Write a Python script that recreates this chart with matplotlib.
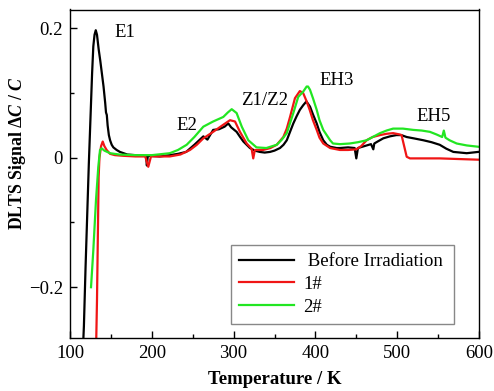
import matplotlib
matplotlib.use("Agg")
import matplotlib.pyplot as plt
import numpy as np

plt.rcParams['font.family'] = ['Liberation Serif', 'DejaVu Serif']
plt.rcParams['mathtext.fontset'] = 'custom'
plt.rcParams['mathtext.rm'] = 'Liberation Serif'
plt.rcParams['mathtext.it'] = 'Liberation Serif:italic'
plt.rcParams['mathtext.bf'] = 'Liberation Serif:bold'
plt.rcParams['mathtext.bfit'] = 'Liberation Serif:bold:italic'

# ---- data ----
before_T = [115, 117, 119, 121, 123, 125, 127, 128.5, 130, 131.5, 133, 135, 137, 139, 141, 143,
            144, 145, 146, 147.5, 149, 151, 153, 157, 161, 170, 180, 190, 193, 194, 195, 198,
            210, 222, 232, 242, 252, 263, 268, 275, 282, 289, 293.5, 297, 303.7, 308, 312, 320,
            326, 332, 338, 344.5, 350, 356.7, 361, 365, 369, 373, 377, 381, 385, 389, 393.4,
            397, 401.6, 405, 409.6, 414, 418, 426, 430, 440, 448, 450, 452, 460, 468, 470.8,
            472, 476, 483, 491, 499, 505, 511.6, 520, 532, 542, 552, 560, 568.6, 577, 585, 592, 599]
before_V = [-0.32, -0.26, -0.17, -0.09, -0.01, 0.06, 0.13, 0.172, 0.19, 0.197, 0.19, 0.168, 0.15,
            0.13, 0.11, 0.085, 0.07, 0.066, 0.05, 0.035, 0.027, 0.02, 0.016, 0.012, 0.009, 0.005,
            0.004, 0.003, 0.002, -0.012, 0.002, 0.003, 0.002, 0.004, 0.006, 0.009, 0.02, 0.033,
            0.028, 0.043, 0.044, 0.048, 0.053, 0.047, 0.04, 0.032, 0.025, 0.015, 0.011, 0.009,
            0.008, 0.009, 0.011, 0.015, 0.02, 0.027, 0.04, 0.053, 0.064, 0.074, 0.081, 0.087,
            0.079, 0.067, 0.053, 0.04, 0.027, 0.02, 0.017, 0.015, 0.015, 0.016, 0.015, -0.001,
            0.015, 0.018, 0.021, 0.013, 0.022, 0.025, 0.03, 0.033, 0.035, 0.035, 0.032, 0.03,
            0.027, 0.024, 0.02, 0.014, 0.009, 0.008, 0.007, 0.008, 0.009]

irr1_T = [131.5, 133, 135, 136, 138, 140, 142, 144.8, 149, 155, 165, 180, 192, 195.7, 199,
          210, 222, 235, 246.7, 255, 263, 275, 287.4, 295.6, 301.7, 307.8, 316, 322, 324, 326,
          336, 345, 352.7, 360.8, 365, 369, 375, 381, 385, 389, 393, 397, 401.6, 405, 409.6,
          418, 430, 440, 450, 456, 462.6, 470, 479, 487, 495, 503, 505.3, 511.6, 515.6, 530,
          552, 575, 599]
irr1_V = [-0.32, -0.22, -0.03, 0.0, 0.018, 0.025, 0.018, 0.012, 0.006, 0.004, 0.003, 0.002,
          0.002, -0.014, 0.002, 0.002, 0.002, 0.005, 0.012, 0.02, 0.03, 0.04, 0.051, 0.058,
          0.056, 0.04, 0.022, 0.014, -0.001, 0.012, 0.012, 0.015, 0.02, 0.032, 0.045, 0.063,
          0.092, 0.103, 0.1, 0.088, 0.074, 0.058, 0.043, 0.031, 0.022, 0.015, 0.012, 0.012,
          0.013, 0.018, 0.027, 0.032, 0.035, 0.037, 0.038, 0.036, 0.035, 0.0015, -0.001,
          -0.001, -0.001, -0.002, -0.003]

irr2_T = [125.7, 128.5, 131.8, 134.6, 136.7, 138.7, 142, 149, 160, 180, 200, 222, 232, 242.6,
          252, 263, 275, 287.4, 293, 297.7, 303.7, 310, 318, 328, 340, 352.7, 359, 365, 373,
          379, 385, 389.3, 391, 393.4, 397, 401.6, 405, 409.6, 418, 421.5, 430, 442, 452,
          462.6, 470, 479, 487, 495, 507, 519.7, 530, 540, 548, 555, 557, 559, 564, 572.7,
          585, 599]
irr2_V = [-0.2, -0.143, -0.065, -0.014, 0.012, 0.0145, 0.011, 0.007, 0.005, 0.004, 0.004,
          0.007, 0.012, 0.02, 0.032, 0.048, 0.056, 0.063, 0.07, 0.075, 0.069, 0.048, 0.027,
          0.016, 0.015, 0.02, 0.028, 0.038, 0.069, 0.094, 0.102, 0.11, 0.11, 0.105, 0.092,
          0.074, 0.058, 0.043, 0.027, 0.022, 0.021, 0.022, 0.024, 0.027, 0.032, 0.038, 0.042,
          0.045, 0.045, 0.043, 0.042, 0.04, 0.036, 0.032, 0.042, 0.031, 0.027, 0.022, 0.019,
          0.017]

labels = [" Before Irradiation", "1#", "2#"]
peak_names = ["E1", "E2", "Z1/Z2", "EH3", "EH5"]
peak_T = [167, 243, 338, 426, 544]
peak_V = [0.194, 0.05, 0.089, 0.12, 0.063]

fig = plt.figure(figsize=(4.94, 3.91), dpi=100)
ax = fig.add_axes([70/494, 1-337.7/391, 409/494, 328.2/391])

ax.plot(before_T, before_V, color='black', lw=1.6, label=labels[0])
ax.plot(irr1_T, irr1_V, color='#f01515', lw=1.6, label=labels[1])
ax.plot(irr2_T, irr2_V, color='#22e622', lw=1.6, label=labels[2])

for n, t, v in zip(peak_names, peak_T, peak_V):
    ax.text(t, v, n, ha='center', va='center', fontsize=13.5)

ax.set_xlim(100, 600)
ax.set_ylim(-0.278, 0.229)
ax.set_xticks([100, 200, 300, 400, 500, 600])
ax.set_xticks([150, 250, 350, 450, 550], minor=True)
ax.set_yticks([-0.2, 0, 0.2])
ax.set_yticklabels(['\u22120.2', '0', '0.2'])
ax.set_yticks([-0.1, 0.1], minor=True)
ax.tick_params(which='both', direction='in', labelsize=13.5)
ax.tick_params(which='major', length=5, width=1, pad=5)
ax.tick_params(which='minor', length=3, width=1)
for s in ax.spines.values():
    s.set_linewidth(1.0)

ax.set_xlabel('Temperature / K', fontsize=13.5, fontweight='bold')
ax.xaxis.set_label_coords(0.5, (337.7 - 380) / 328.2)
ax.set_ylabel('DLTS Signal \u0394$\\mathbfit{C}$ / $\\mathbfit{C}$', fontsize=12.8,
              fontweight='bold', va='center')
ax.yaxis.set_label_coords((17 - 70) / 409, (337.7 - 153) / 328.2)
ax.xaxis.label.set_va('center')

leg = ax.legend(loc='lower left', bbox_to_anchor=(0.393, 0.041, 0.546, 0.239), mode='expand',
                fontsize=13.5, frameon=True, fancybox=False, framealpha=1, edgecolor='#888888',
                handlelength=2.9, handletextpad=0.5, labelspacing=0.3, borderpad=0.45,
                borderaxespad=0)
leg.get_frame().set_linewidth(1.0)

fig.savefig('out.png', dpi=100)
